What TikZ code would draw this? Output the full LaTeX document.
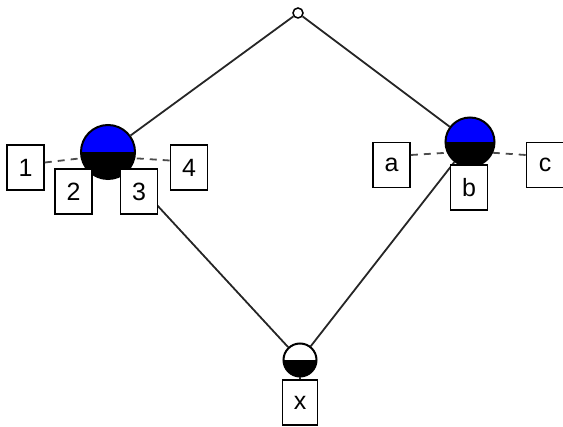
\documentclass[tikz,border=0pt]{standalone}
\usepackage{fontspec}
\setmainfont{Liberation Sans}
\usetikzlibrary{positioning}

\begin{document}
\begin{tikzpicture}[
  x=1pt, y=-1pt,
  hub/.style={circle, draw, line width=2pt, inner sep=0pt, path picture={
      \fill[#1] (path picture bounding box.north west) rectangle (path picture bounding box.east);
      \fill[black] (path picture bounding box.west) rectangle (path picture bounding box.south east);}},
  apex/.style={circle, draw, line width=1.5pt, fill=white, inner sep=0pt, minimum size=10pt},
  tag/.style={draw, fill=white, line width=1.6pt, inner sep=0pt, minimum width=37pt, minimum height=45pt,
      font=\fontsize{25}{25}\selectfont},
  link/.style={line width=1.8pt, black!85},
  lead/.style={line width=1.8pt, dash pattern=on 7pt off 6pt, black!70}
]
\useasboundingbox (0,0) rectangle (563,427);

% joints
\node[apex] (top) at (298,13) {};
\node[hub=blue, minimum size=54pt] (left) at (108,152) {};
\node[hub=blue, minimum size=49pt] (right) at (470,142) {};
\node[hub=white, minimum size=33pt] (bottom) at (300,360) {};

\draw[link] (top) -- (left);
\draw[link] (top) -- (right);
\draw[link] (left) -- (bottom);
\draw[link] (right) -- (bottom);

% labels of the left joint
\node[tag] (one) at (25.5,167.5) {1};
\node[tag] (two) at (73.5,191.5) {2};
\node[tag] (three) at (139,191.5) {3};
\node[tag] (four) at (189,167.5) {4};
\draw[lead] ([yshift=5pt]one.east) -- (left.193);
\draw[lead] ([yshift=7pt]four.west) -- (left.-13);

% labels of the right joint
\node[tag] (ta) at (391.5,165) {a};
\node[tag] (tb) at (469,187.5) {b};
\node[tag] (tc) at (545,165) {c};
\draw[lead] ([yshift=10pt]ta.east) -- (right.205);
\draw[lead] ([yshift=10pt]tc.west) -- (right.-25);

% label of the bottom joint
\node[tag, minimum width=35pt, below=2pt of bottom] (tx) {x};
\draw[link] (bottom) -- (tx);

\end{tikzpicture}
\end{document}
